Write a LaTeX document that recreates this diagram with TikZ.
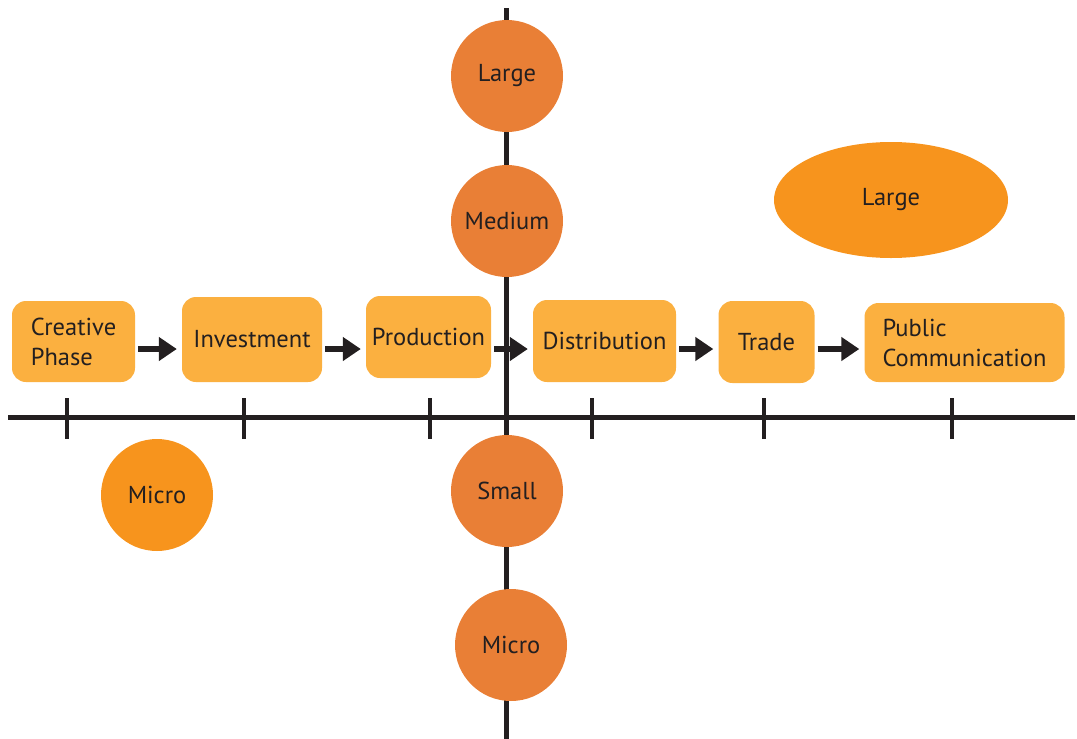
\documentclass[tikz,border=0pt]{standalone}
\usepackage{fontspec}
\setmainfont{PT Sans}
\usetikzlibrary{arrows.meta,shapes.geometric}
\definecolor{boxc}{HTML}{FBB040}
\definecolor{circc}{HTML}{E97F36}
\definecolor{lightc}{HTML}{F7941D}
\definecolor{inkc}{HTML}{231F20}
\tikzset{
  stage/.style={fill=boxc, rounded corners=14pt, inner sep=0pt, align=left, text=inkc, font=\fontsize{24.5}{30}\selectfont},
  sizecirc/.style={circle, fill=circc, minimum size=112pt, inner sep=0pt, text=inkc, font=\fontsize{24.5}{30}\selectfont},
  freecirc/.style={circle, fill=lightc, minimum size=112pt, inner sep=0pt, text=inkc, font=\fontsize{24.5}{30}\selectfont},
  axisline/.style={draw=inkc, line width=5pt},
  tickline/.style={draw=inkc, line width=4.5pt},
  flow/.style={draw=inkc, line width=6pt, -{Triangle[length=18pt,width=23pt]}, shorten <=3pt, shorten >=5pt}
}
\begin{document}
\begin{tikzpicture}[x=1pt,y=-1pt]
\useasboundingbox (0,0) rectangle (1077,739);
% axes
\coordinate (hl) at (8,417);
\coordinate (hr) at (1075,417);
\coordinate (vt) at (506,8);
\coordinate (vb) at (506,739);
\draw[axisline] (hl) -- (hr);
\draw[axisline] (vt) -- (vb);
% ticks
\foreach \x/\n in {67/t1,244/t2,430/t3,592/t4,764/t5,952/t6}{
  \coordinate (\n a) at (\x,398);
  \coordinate (\n b) at (\x,439);
  \draw[tickline] (\n a) -- (\n b);
}
% stage boxes
\node[stage, minimum width=123pt, minimum height=81pt] (cp) at (73.5,341.5) {Creative\\Phase};
\node[stage, minimum width=140pt, minimum height=85pt] (inv) at (252,339.5) {Investment};
\node[stage, minimum width=125pt, minimum height=82pt] (prod) at (428.5,337) {\raisebox{-4pt}{Production}};
\node[stage, minimum width=143pt, minimum height=82pt] (dist) at (604.5,341) {Distribution};
\node[stage, minimum width=96pt, minimum height=82pt] (trade) at (766.5,342) {\raisebox{-3pt}{Trade}};
\node[stage, minimum width=200pt, minimum height=79pt] (pub) at (964.5,342.5) {Public\\Communication};
% flow arrows
\draw[flow] (cp.east |- 0,349) -- (inv.west |- 0,349);
\draw[flow] (inv.east |- 0,349) -- (prod.west |- 0,349);
\draw[flow] (prod.east |- 0,349) -- (dist.west |- 0,349);
\draw[flow] (dist.east |- 0,349) -- (trade.west |- 0,349);
\draw[flow] (trade.east |- 0,349) -- (pub.west |- 0,349);
% size circles on the vertical axis
\node[sizecirc] (large) at (507,76) {\raisebox{-3pt}{Large}};
\node[sizecirc] (medium) at (507,221) {Medium};
\node[sizecirc] (small) at (507,491) {Small};
\node[sizecirc] (microv) at (511,645) {Micro};
% free shapes
\node[freecirc] (microl) at (157,495) {Micro};
\node[ellipse, fill=lightc, minimum width=234pt, minimum height=116pt, inner sep=0pt, text=inkc, font=\fontsize{24.5}{30}\selectfont] (largee) at (891,200) {\raisebox{-3pt}{Large}};
\end{tikzpicture}
\end{document}
